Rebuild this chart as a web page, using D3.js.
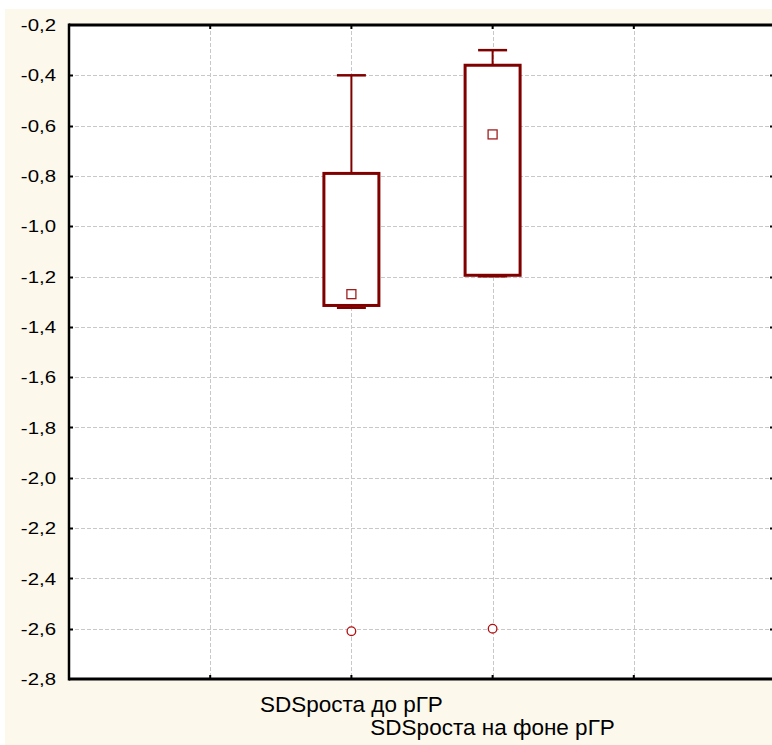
<!DOCTYPE html>
<html><head><meta charset="utf-8">
<script src="https://cdn.jsdelivr.net/npm/d3@7"></script>
<style>body{margin:0;background:#fff}svg{display:block}</style>
</head><body><svg id="c" width="772" height="745"></svg>
<script>
const categories = ["SDSроста до рГР", "SDSроста на фоне рГР"];
const whiskerMin = [-1.325, -1.2];
const q1 = [-1.315, -1.195];
const q3 = [-0.79, -0.36];
const whiskerMax = [-0.4, -0.3];
const median = [-1.27, -0.635];
const outliers = [-2.61, -2.6];
const yTicks = [-2.8, -2.6, -2.4, -2.2, -2.0, -1.8, -1.6, -1.4, -1.2, -1.0, -0.8, -0.6, -0.4, -0.2];
const xGrid = [-1, 0, 1, 2];

const svg = d3.select("#c");
const L = 69, R = 775, T = 25, B = 679;
const x = d3.scaleLinear().domain([-2, 3]).range([L, R]);
const y = d3.scaleLinear().domain([-2.8, -0.2]).range([B, T]);

svg.append("rect").attr("x", 5).attr("y", 9).attr("width", 767).attr("height", 736).attr("fill", "#fdf8ec");
svg.append("rect").attr("x", L).attr("y", T).attr("width", R - L).attr("height", B - T).attr("fill", "#fff");

// grid
svg.append("g").selectAll("line").data(yTicks.slice(1, -1)).join("line")
  .attr("x1", L).attr("x2", R).attr("y1", d => Math.round(y(d)) + 0.5).attr("y2", d => Math.round(y(d)) + 0.5)
  .attr("stroke", "#c8c8c8").attr("stroke-width", 1).attr("stroke-dasharray", "4,2");
svg.append("g").selectAll("line").data(xGrid).join("line")
  .attr("y1", T).attr("y2", B).attr("x1", d => Math.round(x(d)) + 0.5).attr("x2", d => Math.round(x(d)) + 0.5)
  .attr("stroke", "#c8c8c8").attr("stroke-width", 1).attr("stroke-dasharray", "4,2");

// axes frame
const ax = svg.append("g").attr("stroke", "#000");
ax.append("line").attr("x1", L).attr("x2", R).attr("y1", T).attr("y2", T).attr("stroke-width", 3);
ax.append("line").attr("x1", L).attr("x2", R).attr("y1", B).attr("y2", B).attr("stroke-width", 3);
ax.append("line").attr("x1", L).attr("x2", L).attr("y1", T - 1.5).attr("y2", B + 1.5).attr("stroke-width", 2.5);
ax.append("line").attr("x1", R).attr("x2", R).attr("y1", T - 1.5).attr("y2", B + 1.5).attr("stroke-width", 2.5);
// ticks
ax.selectAll(".lt").data(yTicks.slice(1, -1)).join("line").attr("x1", L).attr("x2", L + 4)
  .attr("y1", d => Math.round(y(d)) + 0.5).attr("y2", d => Math.round(y(d)) + 0.5).attr("stroke-width", 2);
ax.selectAll(".rt").data(yTicks.slice(1, -1)).join("line").attr("x1", R - 5).attr("x2", R)
  .attr("y1", d => Math.round(y(d)) + 0.5).attr("y2", d => Math.round(y(d)) + 0.5).attr("stroke-width", 2);
ax.selectAll(".bt").data(xGrid).join("line").attr("x1", d => x(d)).attr("x2", d => x(d))
  .attr("y1", B).attr("y2", B - 4).attr("stroke-width", 2);
ax.selectAll(".tt").data(xGrid).join("line").attr("x1", d => x(d)).attr("x2", d => x(d))
  .attr("y1", T).attr("y2", T + 4).attr("stroke-width", 2);

// y labels
const fmt = v => d3.format(".1f")(v).replace("−", "-").replace(".", ",");
svg.append("g").selectAll("g").data(yTicks).join("g")
  .attr("transform", d => `translate(56,${y(d)})`)
  .append("text").attr("transform", "scale(1.2,1)")
  .attr("text-anchor", "end").attr("dy", "0.36em")
  .style("font-family", "Liberation Sans, Arial, sans-serif").style("font-size", "17px").attr("fill", "#000")
  .text(fmt);

// x labels
svg.append("g").selectAll("text").data(categories).join("text")
  .attr("x", (d, i) => x(i)).attr("y", (d, i) => i === 0 ? 712 : 735)
  .attr("text-anchor", "middle")
  .style("font-family", "Liberation Sans, Arial, sans-serif").style("font-size", "22.5px").attr("fill", "#000")
  .text(d => d);

// boxes
const col = "#800000";
const bw = 55, cw = 29;
const g = svg.append("g");
categories.forEach((c, i) => {
  const cx = x(i);
  g.append("line").attr("x1", cx).attr("x2", cx).attr("y1", y(q3[i])).attr("y2", y(whiskerMax[i])).attr("stroke", col).attr("stroke-width", 2);
  g.append("line").attr("x1", cx - cw / 2).attr("x2", cx + cw / 2).attr("y1", y(whiskerMax[i])).attr("y2", y(whiskerMax[i])).attr("stroke", col).attr("stroke-width", 2.5);
  g.append("line").attr("x1", cx).attr("x2", cx).attr("y1", y(q1[i])).attr("y2", y(whiskerMin[i])).attr("stroke", col).attr("stroke-width", 2);
  g.append("line").attr("x1", cx - cw / 2).attr("x2", cx + cw / 2).attr("y1", y(whiskerMin[i])).attr("y2", y(whiskerMin[i])).attr("stroke", col).attr("stroke-width", 2);
  g.append("rect").attr("x", cx - bw / 2).attr("y", y(q3[i])).attr("width", bw).attr("height", y(q1[i]) - y(q3[i]))
    .attr("fill", "#fff").attr("stroke", col).attr("stroke-width", 3);
  g.append("rect").attr("x", cx - 4.5).attr("y", y(median[i]) - 4.5).attr("width", 9).attr("height", 9)
    .attr("fill", "#fff").attr("stroke", "#a02020").attr("stroke-width", 1.3);
  g.append("circle").attr("cx", cx).attr("cy", y(outliers[i])).attr("r", 4.3)
    .attr("fill", "#fff").attr("stroke", "#b01010").attr("stroke-width", 1.3);
});
</script></body></html>
